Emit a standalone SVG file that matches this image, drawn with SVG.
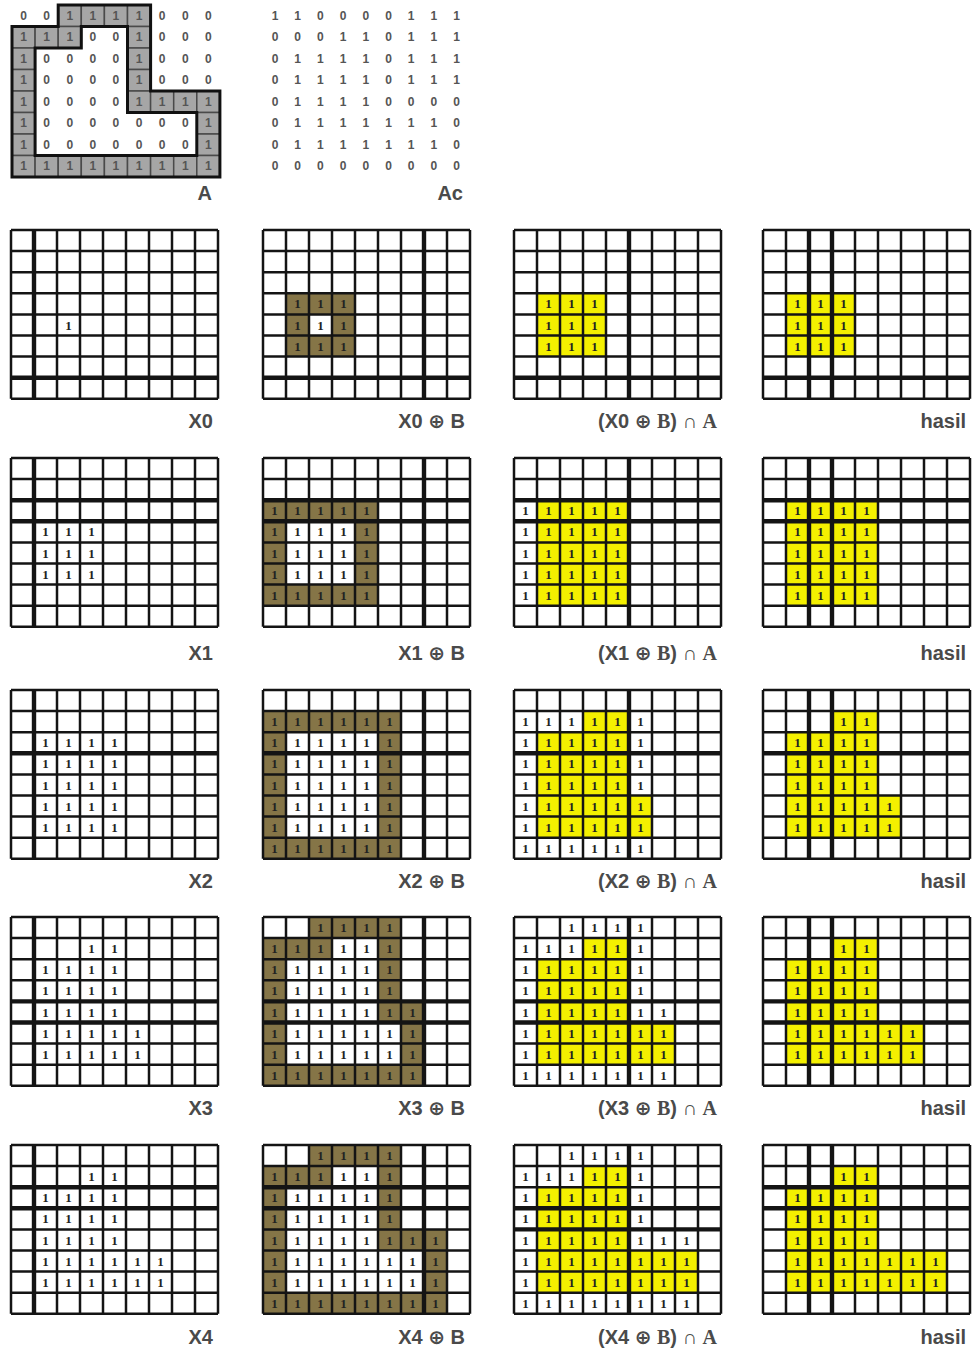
<svg xmlns="http://www.w3.org/2000/svg" xmlns:xlink="http://www.w3.org/1999/xlink" width="975" height="1351" viewBox="0 0 975 1351">
<style>
.gl{fill:none;stroke:#141414;stroke-width:2.5}
.tk{fill:none;stroke:#141414;stroke-width:4.4}
.ol{fill:#857547}
.yl{fill:#f4f000}
.wh{fill:#ffffff}
.gc{fill:#a6a6a6;stroke:#4a4a4a;stroke-width:1.5}
.ao{fill:none;stroke:#111;stroke-width:3}
.d{font-family:"Liberation Serif",serif;font-size:13px;font-weight:bold;fill:#222;text-anchor:middle}
.m{font-family:"Liberation Sans",sans-serif;font-size:12px;font-weight:bold;fill:#555;text-anchor:middle}
.lb{font-family:"Liberation Sans","DejaVu Sans",sans-serif;font-size:20px;font-weight:bold;fill:#4a4a4a;text-anchor:end}
.sf{font-family:"Liberation Serif",serif}
</style>
<defs>
<path id="gl" d="M0 0V168.8M23 0V168.8M46 0V168.8M69 0V168.8M92 0V168.8M115 0V168.8M138 0V168.8M161 0V168.8M184 0V168.8M207 0V168.8M0 0H207M0 21.1H207M0 42.2H207M0 63.3H207M0 84.4H207M0 105.5H207M0 126.6H207M0 147.7H207M0 168.8H207"/>
<rect id="gc" width="23.1" height="21.5"/>
</defs>

<!-- Matrix A -->
<g id="matA" transform="translate(12,5)">
<g class="gc">
<use href="#gc" x="46.2" y="0"/><use href="#gc" x="69.3" y="0"/><use href="#gc" x="92.4" y="0"/><use href="#gc" x="115.5" y="0"/>
<use href="#gc" x="0" y="21.5"/><use href="#gc" x="23.1" y="21.5"/><use href="#gc" x="46.2" y="21.5"/><use href="#gc" x="115.5" y="21.5"/>
<use href="#gc" x="0" y="43"/><use href="#gc" x="115.5" y="43"/>
<use href="#gc" x="0" y="64.5"/><use href="#gc" x="115.5" y="64.5"/>
<use href="#gc" x="0" y="86"/><use href="#gc" x="115.5" y="86"/><use href="#gc" x="138.6" y="86"/><use href="#gc" x="161.7" y="86"/><use href="#gc" x="184.8" y="86"/>
<use href="#gc" x="0" y="107.5"/><use href="#gc" x="184.8" y="107.5"/>
<use href="#gc" x="0" y="129"/><use href="#gc" x="184.8" y="129"/>
<use href="#gc" x="0" y="150.5"/><use href="#gc" x="23.1" y="150.5"/><use href="#gc" x="46.2" y="150.5"/><use href="#gc" x="69.3" y="150.5"/><use href="#gc" x="92.4" y="150.5"/><use href="#gc" x="115.5" y="150.5"/><use href="#gc" x="138.6" y="150.5"/><use href="#gc" x="161.7" y="150.5"/><use href="#gc" x="184.8" y="150.5"/>
</g>
<path class="ao" d="M46.2 0H138.6V86H207.9V172H0V21.5H46.2Z"/>
<path class="ao" d="M69.3 21.5H115.5V107.5H184.8V150.5H23.1V43H69.3Z"/>
<g class="m">
<text x="11.55 34.65 57.75 80.85 103.95 127.05 150.15 173.25 196.35" y="14.5">001111000</text>
<text x="11.55 34.65 57.75 80.85 103.95 127.05 150.15 173.25 196.35" y="36">111001000</text>
<text x="11.55 34.65 57.75 80.85 103.95 127.05 150.15 173.25 196.35" y="57.5">100001000</text>
<text x="11.55 34.65 57.75 80.85 103.95 127.05 150.15 173.25 196.35" y="79">100001000</text>
<text x="11.55 34.65 57.75 80.85 103.95 127.05 150.15 173.25 196.35" y="100.5">100001111</text>
<text x="11.55 34.65 57.75 80.85 103.95 127.05 150.15 173.25 196.35" y="122">100000001</text>
<text x="11.55 34.65 57.75 80.85 103.95 127.05 150.15 173.25 196.35" y="143.5">100000001</text>
<text x="11.55 34.65 57.75 80.85 103.95 127.05 150.15 173.25 196.35" y="165">111111111</text>
</g>
</g>
<text class="lb" x="212" y="200">A</text>

<!-- Matrix Ac -->
<g id="matAc" transform="translate(263.5,5)" class="m">
<text x="11.5 34.2 56.9 79.6 102.3 125 147.7 170.4 193.1" y="14.5">110000111</text>
<text x="11.5 34.2 56.9 79.6 102.3 125 147.7 170.4 193.1" y="36">000110111</text>
<text x="11.5 34.2 56.9 79.6 102.3 125 147.7 170.4 193.1" y="57.5">011110111</text>
<text x="11.5 34.2 56.9 79.6 102.3 125 147.7 170.4 193.1" y="79">011110111</text>
<text x="11.5 34.2 56.9 79.6 102.3 125 147.7 170.4 193.1" y="100.5">011110000</text>
<text x="11.5 34.2 56.9 79.6 102.3 125 147.7 170.4 193.1" y="122">011111110</text>
<text x="11.5 34.2 56.9 79.6 102.3 125 147.7 170.4 193.1" y="143.5">011111110</text>
<text x="11.5 34.2 56.9 79.6 102.3 125 147.7 170.4 193.1" y="165">000000000</text>
</g>
<text class="lb" x="463" y="200">Ac</text>

<!-- ROW 1 -->
<g id="x0" transform="translate(11,230)">
<use href="#gl" class="gl"/>
<path class="tk" d="M23 0V168.8M0 147.7H207"/>
<text class="d" x="57.5" y="99.5">1</text>
</g>
<g id="x0b" transform="translate(263,230)">
<rect class="ol" x="23" y="63.3" width="69" height="63.3"/>
<rect class="wh" x="46" y="84.4" width="23" height="21.1"/>
<use href="#gl" class="gl"/>
<path class="tk" d="M161 0V168.8M0 147.7H207"/>
<g class="d">
<text x="34.5 57.5 80.5" y="78.4">111</text>
<text x="34.5 57.5 80.5" y="99.5">111</text>
<text x="34.5 57.5 80.5" y="120.6">111</text>
</g>
</g>
<g id="x0ba" transform="translate(514,230)">
<rect class="yl" x="23" y="63.3" width="69" height="63.3"/>
<use href="#gl" class="gl"/>
<path class="tk" d="M115 0V168.8M0 147.7H207"/>
<g class="d">
<text x="34.5 57.5 80.5" y="78.4">111</text>
<text x="34.5 57.5 80.5" y="99.5">111</text>
<text x="34.5 57.5 80.5" y="120.6">111</text>
</g>
</g>
<g id="h0" transform="translate(763,230)">
<rect class="yl" x="23" y="63.3" width="69" height="63.3"/>
<use href="#gl" class="gl"/>
<path class="tk" d="M46 0V168.8M69 0V168.8M0 147.7H207"/>
<g class="d">
<text x="34.5 57.5 80.5" y="78.4">111</text>
<text x="34.5 57.5 80.5" y="99.5">111</text>
<text x="34.5 57.5 80.5" y="120.6">111</text>
</g>
</g>
<g class="lb">
<text x="213" y="428">X0</text>
<text x="465" y="428">X0 ⊕ B</text>
<text x="717" y="428">(X0 ⊕ <tspan class="sf">B</tspan>) ∩ <tspan class="sf">A</tspan></text>
<text x="966" y="428">hasil</text>
</g>

<!-- ROW 2 -->
<g id="x1" transform="translate(11,458)">
<use href="#gl" class="gl"/>
<path class="tk" d="M23 0V168.8M0 42.2H207M0 63.3H207"/>
<g class="d">
<text x="34.5 57.5 80.5" y="78.4">111</text>
<text x="34.5 57.5 80.5" y="99.5">111</text>
<text x="34.5 57.5 80.5" y="120.6">111</text>
</g>
</g>
<g id="x1b" transform="translate(263,458)">
<rect class="ol" x="0" y="42.2" width="115" height="105.5"/>
<rect class="wh" x="23" y="63.3" width="69" height="63.3"/>
<use href="#gl" class="gl"/>
<path class="tk" d="M161 0V168.8M0 42.2H207M0 63.3H207"/>
<g class="d">
<text x="11.5 34.5 57.5 80.5 103.5" y="57.3">11111</text>
<text x="11.5 34.5 57.5 80.5 103.5" y="78.4">11111</text>
<text x="11.5 34.5 57.5 80.5 103.5" y="99.5">11111</text>
<text x="11.5 34.5 57.5 80.5 103.5" y="120.6">11111</text>
<text x="11.5 34.5 57.5 80.5 103.5" y="141.7">11111</text>
</g>
</g>
<g id="x1ba" transform="translate(514,458)">
<rect class="yl" x="23" y="42.2" width="92" height="105.5"/>
<use href="#gl" class="gl"/>
<path class="tk" d="M115 0V168.8M0 42.2H207M0 63.3H207"/>
<g class="d">
<text x="11.5 34.5 57.5 80.5 103.5" y="57.3">11111</text>
<text x="11.5 34.5 57.5 80.5 103.5" y="78.4">11111</text>
<text x="11.5 34.5 57.5 80.5 103.5" y="99.5">11111</text>
<text x="11.5 34.5 57.5 80.5 103.5" y="120.6">11111</text>
<text x="11.5 34.5 57.5 80.5 103.5" y="141.7">11111</text>
</g>
</g>
<g id="h1" transform="translate(763,458)">
<rect class="yl" x="23" y="42.2" width="92" height="105.5"/>
<use href="#gl" class="gl"/>
<path class="tk" d="M46 0V168.8M69 0V168.8M0 42.2H207M0 63.3H207"/>
<g class="d">
<text x="34.5 57.5 80.5 103.5" y="57.3">1111</text>
<text x="34.5 57.5 80.5 103.5" y="78.4">1111</text>
<text x="34.5 57.5 80.5 103.5" y="99.5">1111</text>
<text x="34.5 57.5 80.5 103.5" y="120.6">1111</text>
<text x="34.5 57.5 80.5 103.5" y="141.7">1111</text>
</g>
</g>
<g class="lb">
<text x="213" y="660">X1</text>
<text x="465" y="660">X1 ⊕ B</text>
<text x="717" y="660">(X1 ⊕ <tspan class="sf">B</tspan>) ∩ <tspan class="sf">A</tspan></text>
<text x="966" y="660">hasil</text>
</g>

<!-- ROW 3 -->
<g id="x2" transform="translate(11,690)">
<use href="#gl" class="gl"/>
<path class="tk" d="M23 0V168.8M0 63.3H207"/>
<g class="d">
<text x="34.5 57.5 80.5 103.5" y="57.3">1111</text>
<text x="34.5 57.5 80.5 103.5" y="78.4">1111</text>
<text x="34.5 57.5 80.5 103.5" y="99.5">1111</text>
<text x="34.5 57.5 80.5 103.5" y="120.6">1111</text>
<text x="34.5 57.5 80.5 103.5" y="141.7">1111</text>
</g>
</g>
<g id="x2b" transform="translate(263,690)">
<rect class="ol" x="0" y="21.1" width="138" height="147.7"/>
<rect class="wh" x="23" y="42.2" width="92" height="105.5"/>
<use href="#gl" class="gl"/>
<path class="tk" d="M161 0V168.8M0 63.3H207"/>
<g class="d">
<text x="11.5 34.5 57.5 80.5 103.5 126.5" y="36.2">111111</text>
<text x="11.5 34.5 57.5 80.5 103.5 126.5" y="57.3">111111</text>
<text x="11.5 34.5 57.5 80.5 103.5 126.5" y="78.4">111111</text>
<text x="11.5 34.5 57.5 80.5 103.5 126.5" y="99.5">111111</text>
<text x="11.5 34.5 57.5 80.5 103.5 126.5" y="120.6">111111</text>
<text x="11.5 34.5 57.5 80.5 103.5 126.5" y="141.7">111111</text>
<text x="11.5 34.5 57.5 80.5 103.5 126.5" y="162.8">111111</text>
</g>
</g>
<g id="x2ba" transform="translate(514,690)">
<polygon class="yl" points="69,21.1 115,21.1 115,105.5 138,105.5 138,147.7 23,147.7 23,42.2 69,42.2"/>
<use href="#gl" class="gl"/>
<path class="tk" d="M115 0V168.8M0 63.3H207"/>
<g class="d">
<text x="11.5 34.5 57.5 80.5 103.5 126.5" y="36.2">111111</text>
<text x="11.5 34.5 57.5 80.5 103.5 126.5" y="57.3">111111</text>
<text x="11.5 34.5 57.5 80.5 103.5 126.5" y="78.4">111111</text>
<text x="11.5 34.5 57.5 80.5 103.5 126.5" y="99.5">111111</text>
<text x="11.5 34.5 57.5 80.5 103.5 126.5" y="120.6">111111</text>
<text x="11.5 34.5 57.5 80.5 103.5 126.5" y="141.7">111111</text>
<text x="11.5 34.5 57.5 80.5 103.5 126.5" y="162.8">111111</text>
</g>
</g>
<g id="h2" transform="translate(763,690)">
<polygon class="yl" points="69,21.1 115,21.1 115,105.5 138,105.5 138,147.7 23,147.7 23,42.2 69,42.2"/>
<use href="#gl" class="gl"/>
<path class="tk" d="M46 0V168.8M69 0V168.8M0 63.3H207"/>
<g class="d">
<text x="80.5 103.5" y="36.2">11</text>
<text x="34.5 57.5 80.5 103.5" y="57.3">1111</text>
<text x="34.5 57.5 80.5 103.5" y="78.4">1111</text>
<text x="34.5 57.5 80.5 103.5" y="99.5">1111</text>
<text x="34.5 57.5 80.5 103.5 126.5" y="120.6">11111</text>
<text x="34.5 57.5 80.5 103.5 126.5" y="141.7">11111</text>
</g>
</g>
<g class="lb">
<text x="213" y="888">X2</text>
<text x="465" y="888">X2 ⊕ B</text>
<text x="717" y="888">(X2 ⊕ <tspan class="sf">B</tspan>) ∩ <tspan class="sf">A</tspan></text>
<text x="966" y="888">hasil</text>
</g>

<!-- ROW 4 -->
<g id="x3" transform="translate(11,917)">
<use href="#gl" class="gl"/>
<path class="tk" d="M23 0V168.8M0 84.4H207M0 105.5H207"/>
<g class="d">
<text x="80.5 103.5" y="36.2">11</text>
<text x="34.5 57.5 80.5 103.5" y="57.3">1111</text>
<text x="34.5 57.5 80.5 103.5" y="78.4">1111</text>
<text x="34.5 57.5 80.5 103.5" y="99.5">1111</text>
<text x="34.5 57.5 80.5 103.5 126.5" y="120.6">11111</text>
<text x="34.5 57.5 80.5 103.5 126.5" y="141.7">11111</text>
</g>
</g>
<g id="x3b" transform="translate(263,917)">
<polygon class="ol" points="46,0 138,0 138,84.4 161,84.4 161,168.8 0,168.8 0,21.1 46,21.1"/>
<polygon class="wh" points="69,21.1 115,21.1 115,105.5 138,105.5 138,147.7 23,147.7 23,42.2 69,42.2"/>
<use href="#gl" class="gl"/>
<path class="tk" d="M161 0V168.8M0 84.4H207M0 105.5H207"/>
<g class="d">
<text x="57.5 80.5 103.5 126.5" y="15.1">1111</text>
<text x="11.5 34.5 57.5 80.5 103.5 126.5" y="36.2">111111</text>
<text x="11.5 34.5 57.5 80.5 103.5 126.5" y="57.3">111111</text>
<text x="11.5 34.5 57.5 80.5 103.5 126.5" y="78.4">111111</text>
<text x="11.5 34.5 57.5 80.5 103.5 126.5 149.5" y="99.5">1111111</text>
<text x="11.5 34.5 57.5 80.5 103.5 126.5 149.5" y="120.6">1111111</text>
<text x="11.5 34.5 57.5 80.5 103.5 126.5 149.5" y="141.7">1111111</text>
<text x="11.5 34.5 57.5 80.5 103.5 126.5 149.5" y="162.8">1111111</text>
</g>
</g>
<g id="x3ba" transform="translate(514,917)">
<polygon class="yl" points="69,21.1 115,21.1 115,105.5 161,105.5 161,147.7 23,147.7 23,42.2 69,42.2"/>
<use href="#gl" class="gl"/>
<path class="tk" d="M115 0V168.8M0 84.4H207M0 105.5H207"/>
<g class="d">
<text x="57.5 80.5 103.5 126.5" y="15.1">1111</text>
<text x="11.5 34.5 57.5 80.5 103.5 126.5" y="36.2">111111</text>
<text x="11.5 34.5 57.5 80.5 103.5 126.5" y="57.3">111111</text>
<text x="11.5 34.5 57.5 80.5 103.5 126.5" y="78.4">111111</text>
<text x="11.5 34.5 57.5 80.5 103.5 126.5 149.5" y="99.5">1111111</text>
<text x="11.5 34.5 57.5 80.5 103.5 126.5 149.5" y="120.6">1111111</text>
<text x="11.5 34.5 57.5 80.5 103.5 126.5 149.5" y="141.7">1111111</text>
<text x="11.5 34.5 57.5 80.5 103.5 126.5 149.5" y="162.8">1111111</text>
</g>
</g>
<g id="h3" transform="translate(763,917)">
<polygon class="yl" points="69,21.1 115,21.1 115,105.5 161,105.5 161,147.7 23,147.7 23,42.2 69,42.2"/>
<use href="#gl" class="gl"/>
<path class="tk" d="M46 0V168.8M69 0V168.8M0 84.4H207M0 105.5H207"/>
<g class="d">
<text x="80.5 103.5" y="36.2">11</text>
<text x="34.5 57.5 80.5 103.5" y="57.3">1111</text>
<text x="34.5 57.5 80.5 103.5" y="78.4">1111</text>
<text x="34.5 57.5 80.5 103.5" y="99.5">1111</text>
<text x="34.5 57.5 80.5 103.5 126.5 149.5" y="120.6">111111</text>
<text x="34.5 57.5 80.5 103.5 126.5 149.5" y="141.7">111111</text>
</g>
</g>
<g class="lb">
<text x="213" y="1115">X3</text>
<text x="465" y="1115">X3 ⊕ B</text>
<text x="717" y="1115">(X3 ⊕ <tspan class="sf">B</tspan>) ∩ <tspan class="sf">A</tspan></text>
<text x="966" y="1115">hasil</text>
</g>

<!-- ROW 5 -->
<g id="x4" transform="translate(11,1145)">
<use href="#gl" class="gl"/>
<path class="tk" d="M23 0V168.8M0 42.2H207M0 63.3H207"/>
<g class="d">
<text x="80.5 103.5" y="36.2">11</text>
<text x="34.5 57.5 80.5 103.5" y="57.3">1111</text>
<text x="34.5 57.5 80.5 103.5" y="78.4">1111</text>
<text x="34.5 57.5 80.5 103.5" y="99.5">1111</text>
<text x="34.5 57.5 80.5 103.5 126.5 149.5" y="120.6">111111</text>
<text x="34.5 57.5 80.5 103.5 126.5 149.5" y="141.7">111111</text>
</g>
</g>
<g id="x4b" transform="translate(263,1145)">
<polygon class="ol" points="46,0 138,0 138,84.4 184,84.4 184,168.8 0,168.8 0,21.1 46,21.1"/>
<polygon class="wh" points="69,21.1 115,21.1 115,105.5 161,105.5 161,147.7 23,147.7 23,42.2 69,42.2"/>
<use href="#gl" class="gl"/>
<path class="tk" d="M161 0V168.8M0 42.2H207M0 63.3H207"/>
<g class="d">
<text x="57.5 80.5 103.5 126.5" y="15.1">1111</text>
<text x="11.5 34.5 57.5 80.5 103.5 126.5" y="36.2">111111</text>
<text x="11.5 34.5 57.5 80.5 103.5 126.5" y="57.3">111111</text>
<text x="11.5 34.5 57.5 80.5 103.5 126.5" y="78.4">111111</text>
<text x="11.5 34.5 57.5 80.5 103.5 126.5 149.5 172.5" y="99.5">11111111</text>
<text x="11.5 34.5 57.5 80.5 103.5 126.5 149.5 172.5" y="120.6">11111111</text>
<text x="11.5 34.5 57.5 80.5 103.5 126.5 149.5 172.5" y="141.7">11111111</text>
<text x="11.5 34.5 57.5 80.5 103.5 126.5 149.5 172.5" y="162.8">11111111</text>
</g>
</g>
<g id="x4ba" transform="translate(514,1145)">
<polygon class="yl" points="69,21.1 115,21.1 115,105.5 184,105.5 184,147.7 23,147.7 23,42.2 69,42.2"/>
<use href="#gl" class="gl"/>
<path class="tk" d="M115 0V168.8M0 63.3H207M0 84.4H207"/>
<g class="d">
<text x="57.5 80.5 103.5 126.5" y="15.1">1111</text>
<text x="11.5 34.5 57.5 80.5 103.5 126.5" y="36.2">111111</text>
<text x="11.5 34.5 57.5 80.5 103.5 126.5" y="57.3">111111</text>
<text x="11.5 34.5 57.5 80.5 103.5 126.5" y="78.4">111111</text>
<text x="11.5 34.5 57.5 80.5 103.5 126.5 149.5 172.5" y="99.5">11111111</text>
<text x="11.5 34.5 57.5 80.5 103.5 126.5 149.5 172.5" y="120.6">11111111</text>
<text x="11.5 34.5 57.5 80.5 103.5 126.5 149.5 172.5" y="141.7">11111111</text>
<text x="11.5 34.5 57.5 80.5 103.5 126.5 149.5 172.5" y="162.8">11111111</text>
</g>
</g>
<g id="h4" transform="translate(763,1145)">
<polygon class="yl" points="69,21.1 115,21.1 115,105.5 184,105.5 184,147.7 23,147.7 23,42.2 69,42.2"/>
<use href="#gl" class="gl"/>
<path class="tk" d="M46 0V168.8M69 0V168.8M0 42.2H207M0 63.3H207"/>
<g class="d">
<text x="80.5 103.5" y="36.2">11</text>
<text x="34.5 57.5 80.5 103.5" y="57.3">1111</text>
<text x="34.5 57.5 80.5 103.5" y="78.4">1111</text>
<text x="34.5 57.5 80.5 103.5" y="99.5">1111</text>
<text x="34.5 57.5 80.5 103.5 126.5 149.5 172.5" y="120.6">1111111</text>
<text x="34.5 57.5 80.5 103.5 126.5 149.5 172.5" y="141.7">1111111</text>
</g>
</g>
<g class="lb">
<text x="213" y="1344">X4</text>
<text x="465" y="1344">X4 ⊕ B</text>
<text x="717" y="1344">(X4 ⊕ <tspan class="sf">B</tspan>) ∩ <tspan class="sf">A</tspan></text>
<text x="966" y="1344">hasil</text>
</g>
</svg>
